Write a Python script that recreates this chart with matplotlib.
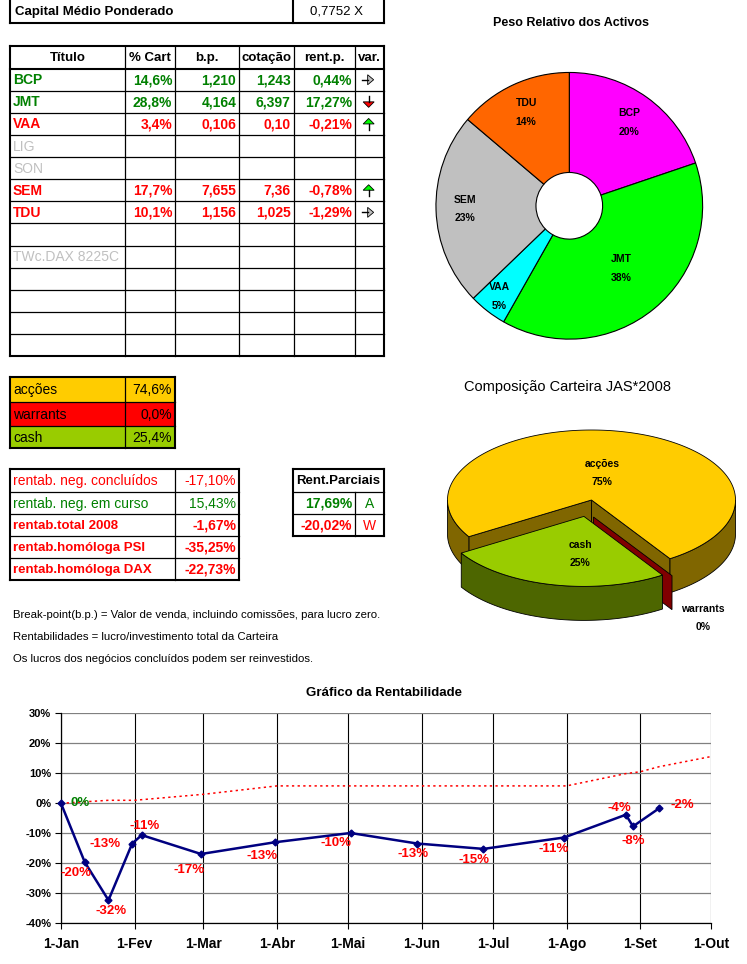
import datetime as dt
import numpy as np
import matplotlib
matplotlib.use("Agg")
import matplotlib.pyplot as plt
from matplotlib.patches import Polygon, Rectangle

plt.rcParams['font.family'] = ['Liberation Sans', 'DejaVu Sans']

# ------------------------------------------------------------------ data
capital_label = "Capital Médio Ponderado"
capital_value = "0,7752 X"

table_header = ["Título", "% Cart", "b.p.", "cotação", "rent.p.", "var."]
titulos = ["BCP", "JMT", "VAA", "LIG", "SON", "SEM", "TDU", "", "TWc.DAX 8225C", "", "", "", ""]
cart_pct = [14.6, 28.8, 3.4, None, None, 17.7, 10.1, None, None, None, None, None, None]
break_point = ["1,210", "4,164", "0,106", "", "", "7,655", "1,156", "", "", "", "", "", ""]
cotacao = ["1,243", "6,397", "0,10", "", "", "7,36", "1,025", "", "", "", "", "", ""]
rent_p = [0.44, 17.27, -0.21, None, None, -0.78, -1.29, None, None, None, None, None, None]
var_dir = ["right", "down", "up", None, None, "up", "right", None, None, None, None, None, None]

comp_labels = ["acções", "warrants", "cash"]
comp_pct = [74.6, 0.0, 25.4]
comp_colors = ["#FFCC00", "#FF0000", "#99CC00"]
comp_side_colors = ["#806600", "#800000", "#4D6600"]

rentab_labels = ["rentab. neg. concluídos", "rentab. neg. em curso", "rentab.total 2008",
                 "rentab.homóloga PSI", "rentab.homóloga DAX"]
rentab_values = [-17.10, 15.43, -1.67, -35.25, -22.73]
rentab_bold = [False, False, True, True, True]

parc_header = "Rent.Parciais"
parc_values = [17.69, -20.02]
parc_codes = ["A", "W"]

notes = ["Break-point(b.p.) = Valor de venda, incluindo comissões, para lucro zero.",
         "Rentabilidades = lucro/investimento total da Carteira",
         "Os lucros dos negócios concluídos podem ser reinvestidos."]

peso_labels = ["BCP", "JMT", "VAA", "SEM", "TDU"]
peso_pct = [19.8, 38.4, 4.6, 23.4, 13.8]
peso_colors = ["#FF00FF", "#00FF00", "#00FFFF", "#C0C0C0", "#FF6600"]

rent_dates = ["2008-01-01", "2008-01-11", "2008-01-21", "2008-01-31", "2008-02-04",
              "2008-02-29", "2008-03-31", "2008-05-02", "2008-05-30", "2008-06-27",
              "2008-07-31", "2008-08-26", "2008-08-29", "2008-09-09"]
rent_values = [0.0, -19.6, -32.3, -13.4, -10.6, -16.9, -13.0, -9.9, -13.4, -15.2,
               -11.4, -3.8, -7.7, -1.67]
bench_dates = ["2008-01-01", "2008-01-21", "2008-02-01", "2008-03-01", "2008-04-01",
               "2008-05-01", "2008-06-01", "2008-07-01", "2008-08-01", "2008-08-26",
               "2008-09-01", "2008-09-09", "2008-10-01"]
bench_values = [0.0, 1.0, 1.0, 3.0, 5.8, 5.8, 5.8, 5.8, 5.8, 9.9, 10.5, 12.2, 15.6]
month_labels = ["1-Jan", "1-Fev", "1-Mar", "1-Abr", "1-Mai", "1-Jun", "1-Jul",
                "1-Ago", "1-Set", "1-Out"]
y_ticks = [-40, -30, -20, -10, 0, 10, 20, 30]

# ------------------------------------------------------------------ helpers
GREEN = "#008000"
RED = "#FF0000"
GRAY = "#C0C0C0"
THICK = 1.5
THIN = 0.9

W, H = 747, 964
fig = plt.figure(figsize=(W / 100, H / 100), dpi=100)
ov = fig.add_axes([0, 0, 1, 1])
ov.set_xlim(0, W)
ov.set_ylim(H, 0)
ov.axis("off")


def seg(x0, y0, x1, y1, lw=THIN):
    ov.plot([x0, x1], [y0, y1], color="black", lw=lw, solid_capstyle="projecting")


def txt(x, y, s, ha="left", color="black", bold=False, size=10):
    ov.text(x, y, s, ha=ha, va="center", color=color,
            fontweight="bold" if bold else "normal", fontsize=size)


def pt_fmt(v, nd):
    return f"{v:.{nd}f}".replace(".", ",")


def grid_table(xs, ys, thick_rows=()):
    for i, y in enumerate(ys):
        lw = THICK if (i == 0 or i == len(ys) - 1 or i in thick_rows) else THIN
        seg(xs[0], y, xs[-1], y, lw)
    for j, x in enumerate(xs):
        lw = THICK if (j == 0 or j == len(xs) - 1) else THIN
        seg(x, ys[0], x, ys[-1], lw)


def arrow(cx, cy, kind):
    if kind == "right":
        tri = [(cx - 1, cy - 5), (cx + 5, cy), (cx - 1, cy + 5)]
        stem = ((cx - 7, cy), (cx - 1, cy))
        fc = "#C0C0C0"
    elif kind == "down":
        tri = [(cx - 5.5, cy), (cx + 5.5, cy), (cx, cy + 5.5)]
        stem = ((cx, cy - 6), (cx, cy))
        fc = "#FF0000"
    else:
        tri = [(cx - 5.5, cy), (cx + 5.5, cy), (cx, cy - 5.5)]
        stem = ((cx, cy), (cx, cy + 6))
        fc = "#00FF00"
    ov.plot([stem[0][0], stem[1][0]], [stem[0][1], stem[1][1]], color="black", lw=1.0)
    ov.add_patch(Polygon(tri, closed=True, fc=fc, ec="black", lw=0.6))


# ------------------------------------------------------------------ top box
seg(10, 0, 10, 22.7, THICK)
seg(384, 0, 384, 22.7, THICK)
seg(293, 0, 293, 22.7, THICK)
seg(10, 22.7, 384, 22.7, THICK)
txt(15, 11.5, capital_label, bold=True, size=9.5)
txt(337, 11.5, capital_value, ha="center", size=9.5)

# ------------------------------------------------------------------ main table
cols = [10, 125.3, 175.3, 239.3, 293.7, 355.3, 384]
rows = [45.7] + [68.7 + 22.1 * k for k in range(14)]
grid_table(cols, rows, thick_rows=(1,))
for j, h in enumerate(table_header):
    txt((cols[j] + cols[j + 1]) / 2, (rows[0] + rows[1]) / 2 + 0.5, h, ha="center",
        bold=True, size=9.5)
for i, name in enumerate(titulos):
    yc = (rows[i + 1] + rows[i + 2]) / 2 + 0.5
    if rent_p[i] is None:
        if name:
            txt(cols[0] + 3, yc, name, color=GRAY, size=10)
        continue
    col = GREEN if rent_p[i] >= 0 else RED
    txt(cols[0] + 3, yc, name, color=col, bold=True)
    txt(cols[2] - 3, yc, pt_fmt(cart_pct[i], 1) + "%", ha="right", color=col, bold=True)
    txt(cols[3] - 3, yc, break_point[i], ha="right", color=col, bold=True)
    txt(cols[4] - 3, yc, cotacao[i], ha="right", color=col, bold=True)
    txt(cols[5] - 3, yc, pt_fmt(rent_p[i], 2) + "%", ha="right", color=col, bold=True)
    arrow((cols[5] + cols[6]) / 2 - 1, yc - 0.5, var_dir[i])

# ------------------------------------------------------------------ composition table
ccols = [10, 125.3, 175]
crows = [377.3, 402.3, 426, 448.3]
for i, (lab, v, c) in enumerate(zip(comp_labels, comp_pct, comp_colors)):
    ov.add_patch(Rectangle((ccols[0], crows[i]), ccols[-1] - ccols[0], crows[i + 1] - crows[i],
                           fc=c, ec="none"))
    yc = (crows[i] + crows[i + 1]) / 2 + 0.5
    txt(ccols[0] + 3, yc, lab, size=10)
    txt(ccols[-1] - 3, yc, pt_fmt(v, 1) + "%", ha="right", size=10)
grid_table(ccols, crows)

# ------------------------------------------------------------------ rentab table
rcols = [10, 175.3, 239.3]
rrows = [469.3, 492, 514.3, 536.3, 558.3, 580]
grid_table(rcols, rrows)
for i, (lab, v, b) in enumerate(zip(rentab_labels, rentab_values, rentab_bold)):
    yc = (rrows[i] + rrows[i + 1]) / 2 + 0.5
    col = GREEN if v >= 0 else RED
    txt(rcols[0] + 3, yc, lab, color=col, bold=b, size=9.5 if b else 10)
    txt(rcols[-1] - 3, yc, pt_fmt(v, 2) + "%", ha="right", color=col, bold=b, size=10)

# ------------------------------------------------------------------ rent parciais
pl, pr, ps = 292.7, 384.3, 355.3
prows = [469.3, 492, 514.3, 535.7]
for i, y in enumerate(prows):
    seg(pl, y, pr, y, THICK if i in (0, len(prows) - 1) else THIN)
seg(pl, prows[0], pl, prows[-1], THICK)
seg(pr, prows[0], pr, prows[-1], THICK)
seg(ps, prows[1], ps, prows[-1], THIN)
txt((pl + pr) / 2, (prows[0] + prows[1]) / 2 + 0.5, parc_header, ha="center", bold=True, size=9.5)
for i, (v, code) in enumerate(zip(parc_values, parc_codes)):
    yc = (prows[i + 1] + prows[i + 2]) / 2 + 0.5
    col = GREEN if v >= 0 else RED
    txt(ps - 3, yc, pt_fmt(v, 2) + "%", ha="right", color=col, bold=True, size=10)
    txt((ps + pr) / 2, yc, code, ha="center", color=col, size=10)

# ------------------------------------------------------------------ notes
for k, n in enumerate(notes):
    txt(13, 615 + 22 * k, n, size=8.2)

# ------------------------------------------------------------------ 3D pie (composição)
ov.text(568, 387, "Composição Carteira JAS*2008", ha="center", va="center", fontsize=10.5)
cx3, cy3, a3, b3, depth = 591.5, 500.0, 144.0, 70.0, 34.0
theta0 = 571.6


def ppos(th, off, dz=0.0):
    r = np.radians(th)
    return (cx3 + a3 * np.cos(r) + off[0], cy3 - b3 * np.sin(r) + off[1] + dz)


def cut_face(th, off, color):
    apex = (cx3 + off[0], cy3 + off[1])
    ov.add_patch(Polygon([apex, ppos(th, off), ppos(th, off, depth), (apex[0], apex[1] + depth)],
                         closed=True, fc=color, ec="black", lw=0.6))


def draw_slice(hi, lo, off, top_c, side_c):
    if np.cos(np.radians(hi)) < 0:
        cut_face(hi, off, side_c)
    if np.cos(np.radians(lo)) > 0:
        cut_face(lo, off, side_c)
    ths = np.linspace(lo, hi, 900)
    front = np.sin(np.radians(ths)) < 0
    start = None
    for k in range(len(ths) + 1):
        f = front[k] if k < len(ths) else False
        if f and start is None:
            start = k
        elif not f and start is not None:
            sg = ths[start:k]
            top = [ppos(t, off) for t in sg]
            bot = [ppos(t, off, depth) for t in sg[::-1]]
            ov.add_patch(Polygon(top + bot, closed=True, fc=side_c, ec="black", lw=0.6))
            start = None
    apex = (cx3 + off[0], cy3 + off[1])
    ov.add_patch(Polygon([apex] + [ppos(t, off) for t in ths], closed=True,
                         fc=top_c, ec="black", lw=0.6))


tot = sum(comp_pct)
cum = 0.0
bounds = []
for v in comp_pct:
    hi = theta0 - 360 * cum / tot
    lo = hi - 360 * v / tot
    bounds.append((hi, lo))
    cum += v

# acções
draw_slice(bounds[0][0], bounds[0][1], (0, 0), comp_colors[0], comp_side_colors[0])
# warrants (zero slice, only its face shows)
cut_face(bounds[1][0], (2, 17), comp_side_colors[1])
# cash (exploded)
hi, lo = bounds[2]
mid = np.radians((hi + lo) / 2)
e = 0.24
off_c = (e * a3 * np.cos(mid), -e * b3 * np.sin(mid))
draw_slice(hi, lo, off_c, comp_colors[2], comp_side_colors[2])

comp_label_pos = [(602, 464), (703, 609), (580, 545)]
for lab, v, (lx, ly) in zip(comp_labels, comp_pct, comp_label_pos):
    ov.text(lx, ly, lab, ha="center", va="center", fontsize=7.5, fontweight="bold")
    ov.text(lx, ly + 18, f"{round(v)}%", ha="center", va="center", fontsize=7.5,
            fontweight="bold")

# ------------------------------------------------------------------ donut
dcx, dcy, dr = 569.3, 205.8, 136.0
axd = fig.add_axes([(dcx - dr) / W, 1 - (dcy + dr) / H, 2 * dr / W, 2 * dr / H])
wedges, _ = axd.pie(peso_pct, colors=peso_colors, startangle=90, counterclock=False,
                    wedgeprops=dict(width=0.75, edgecolor="black", linewidth=0.8))
axd.set_xlim(-1.02, 1.02)
axd.set_ylim(-1.02, 1.02)
axd.set_aspect("equal")
axd.axis("off")
label_r = [0.77, 0.61, 0.86, 0.78, 0.77]
tot_p = sum(peso_pct)
for w, lab, v, r in zip(wedges, peso_labels, peso_pct, label_r):
    th = np.radians((w.theta1 + w.theta2) / 2)
    x, y = r * np.cos(th), r * np.sin(th)
    axd.text(x, y + 0.07, lab, ha="center", va="center", fontsize=7.5, fontweight="bold")
    axd.text(x, y - 0.07, f"{round(100 * v / tot_p)}%", ha="center", va="center",
             fontsize=7.5, fontweight="bold")
fig.text(571 / W, 1 - 23 / H, "Peso Relativo dos Activos", ha="center", va="center",
         fontsize=9, fontweight="bold")

# ------------------------------------------------------------------ line chart
x0, x1, ytop, ybot = 61.0, 711.3, 713.3, 923.3
axl = fig.add_axes([x0 / W, 1 - ybot / H, (x1 - x0) / W, (ybot - ytop) / H])
rd = [dt.date.fromisoformat(s) for s in rent_dates]
bd = [dt.date.fromisoformat(s) for s in bench_dates]
months = [dt.date(2008, m, 1) for m in range(1, 10)] + [dt.date(2008, 10, 1)]

axl.plot(bd, bench_values, color="red", lw=1.1, linestyle=(0, (1.5, 2.2)), zorder=3)
axl.plot(rd, rent_values, color="#000080", lw=1.8, marker="D", ms=3.5, zorder=4,
         clip_on=False)

label_offsets = [(19, 0), (-8.6, 11), (2.4, 10.8), (-27, 0.7), (3.3, -9.5), (-11.5, 16.3),
                 (-12.4, 13.7), (-14.4, 10.5), (-4.3, 10.8), (-9.6, 10.8), (-11, 11.8),
                 (-6.2, -6.5), (0, 15), (23.4, -3.6)]
for d, v, (dx, dy) in zip(rd, rent_values, label_offsets):
    col = GREEN if round(v) >= 0 else RED
    axl.annotate(f"{round(v)}%", xy=(d, v), xytext=(dx, -dy), textcoords="offset pixels",
                 ha="center", va="center", color=col, fontsize=9.5, fontweight="bold",
                 annotation_clip=False, zorder=5)

axl.set_xlim(months[0], months[-1])
axl.set_ylim(y_ticks[0], y_ticks[-1])
axl.set_xticks(months)
axl.set_xticklabels(month_labels)
axl.set_yticks(y_ticks)
axl.set_yticklabels([f"{v}%" for v in y_ticks])
axl.yaxis.grid(True, color="#808080", lw=0.9)
axl.xaxis.grid(True, color="black", lw=0.8)
axl.set_axisbelow(True)
for s in ("top", "right"):
    axl.spines[s].set_visible(False)
for s in ("left", "bottom"):
    axl.spines[s].set_color("black")
    axl.spines[s].set_linewidth(0.9)
axl.tick_params(axis="x", length=4, width=0.8, pad=6, labelsize=10)
axl.tick_params(axis="y", length=4, width=0.8, pad=3, labelsize=8)
for lab in axl.get_xticklabels() + axl.get_yticklabels():
    lab.set_fontweight("bold")
axl.patch.set_alpha(0)
fig.text(384.5 / W, 1 - 692.7 / H, "Gráfico da Rentabilidade", ha="center", va="center",
         fontsize=9.5, fontweight="bold")

fig.savefig("out.png", dpi=100)
